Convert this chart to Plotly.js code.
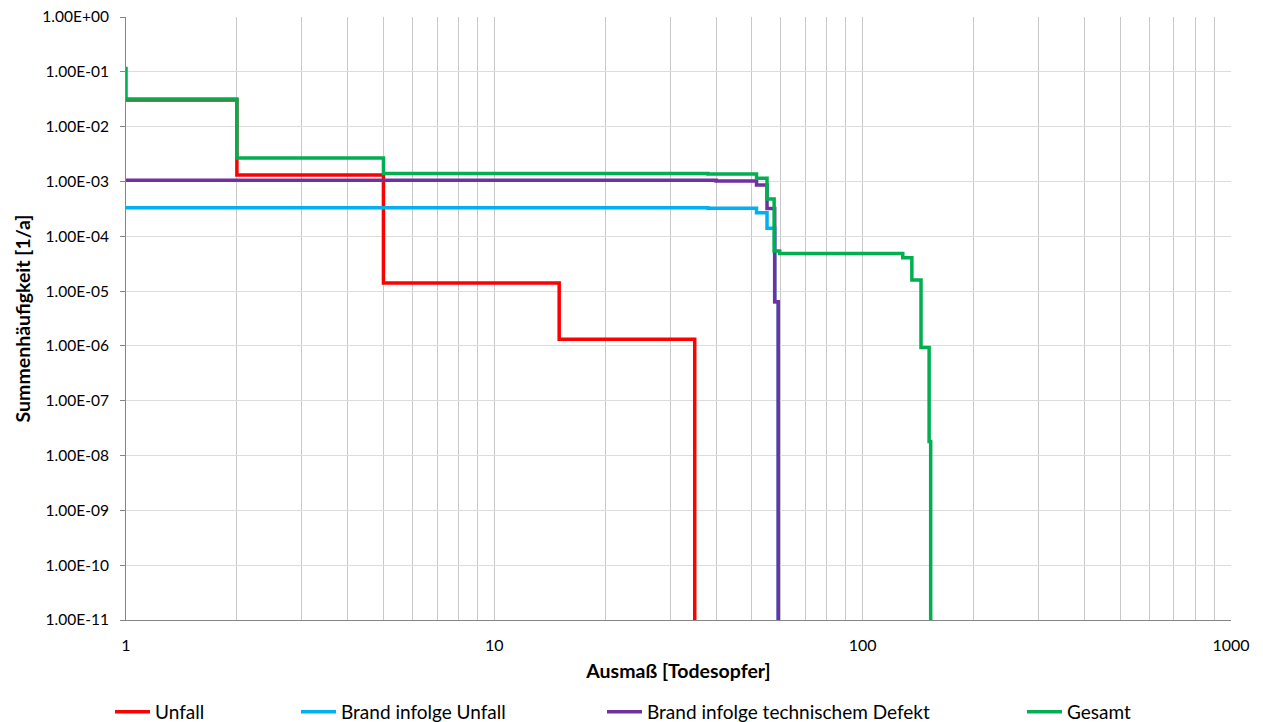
<!DOCTYPE html>
<html>
<head>
<meta charset="utf-8">
<script src="https://cdn.plot.ly/plotly-3.0.1.min.js"></script>
<style>
html,body{margin:0;padding:0;background:#fff;}
#chart{width:1263px;height:722px;}
</style>
</head>
<body>
<div id="chart"></div>
<script>
// Series names
const seriesNames = ["Unfall", "Brand infolge Unfall", "Brand infolge technischem Defekt", "Gesamt"];

// Unfall (red)
const unfallX = [1, 2, 5, 15, 35];
const unfallY = [3.05e-2, 1.31e-3, 1.4e-5, 1.32e-6, 1e-13];

// Brand infolge Unfall (blue)
const brandUnfallX = [1, 38, 51.5, 55, 57.7, 59];
const brandUnfallY = [3.3e-4, 3.25e-4, 2.7e-4, 1.4e-4, 6.4e-6, 1e-13];

// Brand infolge technischem Defekt (purple)
const brandTechX = [1, 40, 51.5, 55, 57.7, 59];
const brandTechY = [1.05e-3, 1.02e-3, 8.6e-4, 3.2e-4, 6.4e-6, 1e-13];

// Gesamt (green)
const gesamtX = [1, 1, 2, 5, 38, 51.5, 55, 57.5, 59.5, 128.5, 136, 144, 151.5, 153];
const gesamtY = [1.24e-1, 3.2e-2, 2.67e-3, 1.4e-3, 1.37e-3, 1.14e-3, 4.8e-4, 5.4e-5, 4.87e-5, 4.05e-5, 1.59e-5, 9.4e-7, 1.8e-8, 1e-13];

// Axis ticks
const xTickVals = [1,2,3,4,5,6,7,8,9,10,20,30,40,50,60,70,80,90,100,200,300,400,500,600,700,800,900,1000];
const xTickText = ["1","","","","","","","","","10","","","","","","","","","100","","","","","","","","","1000"];
const yTickVals = [1, 1e-1, 1e-2, 1e-3, 1e-4, 1e-5, 1e-6, 1e-7, 1e-8, 1e-9, 1e-10, 1e-11];
const yTickText = ["1.00E+00","1.00E-01","1.00E-02","1.00E-03","1.00E-04","1.00E-05","1.00E-06","1.00E-07","1.00E-08","1.00E-09","1.00E-10","1.00E-11"];

const colors = ["#FF0000", "#00B0F0", "#7030A0", "#00B050"];
const FONT = "Lato, 'Open Sans', sans-serif";

function tr(x, y, i, lg) {
  return {
    x: x, y: y, name: seriesNames[i], type: "scatter", mode: "lines",
    line: {color: colors[i], width: 3.5, shape: "hv"},
    legend: lg, hoverinfo: "x+y+name"
  };
}

const data = [
  tr(unfallX, unfallY, 0, "legend"),
  tr(brandUnfallX, brandUnfallY, 1, "legend2"),
  tr(brandTechX, brandTechY, 2, "legend3"),
  tr(gesamtX, gesamtY, 3, "legend4")
];

const W = 1263, H = 722;
function leg(px) {
  return {x: px / W, y: (H - 712) / H, xref: "container", yref: "container",
    xanchor: "left", yanchor: "middle",
    orientation: "h", bgcolor: "rgba(0,0,0,0)", borderwidth: 0,
    itemwidth: 35, font: {family: FONT, size: 19, color: "#000"}};
}

const layout = {
  width: W, height: H,
  margin: {l: 126, r: 32, t: 17, b: 102, autoexpand: false},
  paper_bgcolor: "#fff", plot_bgcolor: "#fff",
  font: {family: FONT, color: "#000"},
  showlegend: true,
  legend: leg(110),
  legend2: leg(296),
  legend3: leg(602),
  legend4: leg(1022),
  xaxis: {
    type: "log", range: [0, 3],
    tickmode: "array", tickvals: xTickVals, ticktext: xTickText,
    showgrid: true, gridcolor: "#c8c8c8", gridwidth: 1,
    showline: true, linecolor: "#868686", linewidth: 1,
    ticks: "", zeroline: false,
    tickfont: {family: FONT, size: 16, color: "#000"},
    ticklabelstandoff: 11,
    title: {text: "Ausmaß [Todesopfer]", font: {family: FONT, size: 19.5, color: "#000", weight: "bold"}, standoff: 11}
  },
  yaxis: {
    type: "log", range: [-11, 0],
    tickmode: "array", tickvals: yTickVals, ticktext: yTickText,
    showgrid: true, gridcolor: "#dcdcdc", gridwidth: 1,
    showline: true, linecolor: "#868686", linewidth: 1,
    ticks: "outside", ticklen: 5, tickcolor: "#868686",
    zeroline: false,
    tickfont: {family: FONT, size: 15.5, color: "#000"},
    ticklabelstandoff: 8,
    title: {text: "Summenhäufigkeit [1/a]", font: {family: FONT, size: 19.5, color: "#000", weight: "bold"}, standoff: 6}
  }
};

Plotly.newPlot("chart", data, layout, {displayModeBar: false, staticPlot: true});
</script>
</body>
</html>
